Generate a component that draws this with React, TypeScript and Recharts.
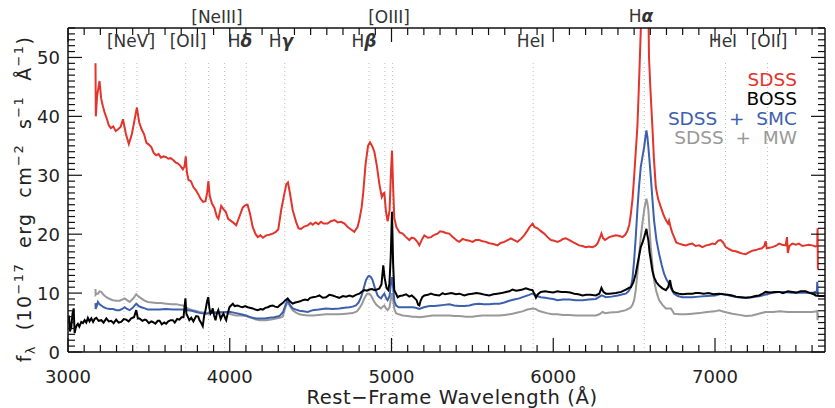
import { LineChart, Line, XAxis, YAxis, ReferenceLine } from 'recharts';

// rest-frame spectra: [wavelength (Å), flux (1e-17 erg/cm2/s/Å)]
const SDSS: [number, number][] = [
  [3170, 49.0], [3172, 40.0], [3180, 43.5], [3195, 46.0], [3205, 43.0], [3215, 41.8], [3228, 40.5],
  [3240, 39.6], [3252, 38.5], [3265, 38.0], [3280, 38.3], [3295, 37.5], [3310, 37.8], [3325, 38.2],
  [3340, 39.5], [3358, 37.0], [3376, 35.3], [3395, 37.0], [3412, 39.5], [3426, 41.5], [3440, 39.0],
  [3455, 37.8], [3470, 37.0], [3485, 35.5], [3500, 35.2], [3515, 34.8], [3530, 33.8], [3545, 33.4],
  [3560, 33.6], [3575, 33.0], [3590, 33.2], [3605, 33.1], [3620, 32.8], [3635, 32.9], [3650, 32.6],
  [3665, 32.2], [3680, 32.0], [3695, 31.6], [3710, 31.0], [3720, 31.5], [3728, 33.2], [3735, 30.5],
  [3745, 29.2], [3760, 29.0], [3775, 28.0], [3790, 27.5], [3805, 26.8], [3820, 26.0], [3835, 25.5],
  [3850, 25.6], [3860, 27.0], [3868, 29.0], [3876, 26.5], [3890, 25.2], [3905, 24.5], [3920, 23.0],
  [3930, 22.6], [3947, 24.8], [3960, 24.3], [3975, 23.8], [3990, 22.6], [4005, 22.3], [4020, 22.0],
  [4040, 21.5], [4060, 23.0], [4080, 24.5], [4095, 24.9], [4110, 25.0], [4125, 23.5], [4142, 21.2],
  [4160, 20.0], [4173, 19.5], [4190, 19.8], [4205, 19.4], [4225, 19.8], [4245, 19.9], [4266, 20.1],
  [4285, 20.4], [4300, 20.8], [4318, 24.1], [4335, 26.5], [4350, 28.5], [4360, 28.8], [4372, 27.0],
  [4389, 24.1], [4410, 22.1], [4425, 21.0], [4441, 20.9], [4460, 21.3], [4482, 21.5], [4500, 21.9],
  [4513, 21.6], [4530, 22.0], [4548, 21.7], [4564, 22.1], [4580, 21.8], [4605, 21.8], [4625, 22.2],
  [4647, 22.4], [4668, 22.0], [4688, 22.1], [4710, 21.8], [4729, 21.2], [4750, 20.8], [4770, 20.4],
  [4790, 21.2], [4801, 22.4], [4815, 24.5], [4825, 27.0], [4840, 32.0], [4855, 35.0], [4867, 35.6],
  [4880, 35.0], [4894, 34.0], [4910, 31.5], [4925, 28.5], [4940, 26.3], [4950, 26.9], [4956, 27.0],
  [4965, 24.0], [4976, 22.2], [4988, 24.0], [4996, 30.0], [5003, 34.2], [5010, 28.0], [5017, 22.8],
  [5030, 21.2], [5050, 20.3], [5069, 20.1], [5090, 19.5], [5110, 19.0], [5125, 19.4], [5141, 19.3],
  [5160, 18.7], [5172, 18.1], [5190, 19.2], [5203, 19.8], [5225, 19.4], [5244, 19.5], [5265, 19.9],
  [5285, 20.1], [5300, 20.5], [5316, 20.4], [5337, 20.2], [5357, 20.1], [5375, 19.6], [5388, 19.3],
  [5405, 18.9], [5419, 18.7], [5440, 19.2], [5460, 19.0], [5480, 18.9], [5501, 18.7], [5520, 19.0],
  [5542, 19.0], [5563, 18.8], [5584, 18.7], [5600, 18.5], [5615, 18.4], [5635, 18.3], [5655, 18.1],
  [5675, 18.5], [5697, 18.7], [5718, 19.0], [5738, 19.3], [5758, 19.0], [5779, 18.7], [5800, 19.2],
  [5820, 19.8], [5840, 20.6], [5856, 21.3], [5872, 21.8], [5885, 21.2], [5903, 21.0], [5920, 20.6],
  [5944, 20.1], [5965, 19.5], [5985, 19.0], [6006, 18.9], [6026, 18.7], [6045, 18.9], [6060, 19.2],
  [6078, 19.3], [6100, 19.0], [6119, 18.7], [6140, 18.4], [6160, 18.1], [6180, 18.0], [6201, 17.8],
  [6220, 17.9], [6242, 17.8], [6260, 18.0], [6273, 18.4], [6290, 19.5], [6298, 20.1], [6308, 19.3],
  [6320, 19.0], [6346, 19.5], [6370, 19.7], [6387, 19.8], [6410, 19.7], [6428, 19.5], [6445, 19.9],
  [6459, 20.6], [6470, 21.6], [6480, 23.5], [6490, 26.0], [6500, 29.7], [6510, 34.0], [6520, 38.2],
  [6528, 44.0], [6535, 49.5], [6545, 58.0], [6560, 66.0], [6575, 66.0], [6588, 58.0], [6592, 50.0],
  [6600, 45.0], [6613, 38.2], [6622, 33.0], [6634, 28.0], [6648, 26.0], [6665, 24.6], [6680, 23.4],
  [6696, 22.4], [6710, 21.8], [6716, 22.3], [6725, 21.2], [6735, 20.3], [6747, 19.5], [6760, 18.6],
  [6778, 18.4], [6800, 18.2], [6820, 18.1], [6840, 18.3], [6860, 18.4], [6880, 18.0], [6902, 18.1],
  [6922, 17.8], [6945, 18.1], [6965, 18.2], [6984, 18.4], [7000, 18.3], [7020, 18.9], [7035, 19.0],
  [7050, 18.6], [7066, 17.8], [7085, 17.5], [7107, 17.2], [7128, 17.1], [7149, 16.9], [7170, 16.7],
  [7190, 16.6], [7210, 16.9], [7231, 17.2], [7252, 17.3], [7272, 17.5], [7290, 17.6], [7305, 18.0],
  [7313, 18.8], [7320, 17.6], [7335, 17.7], [7354, 17.8], [7375, 18.0], [7396, 18.4], [7415, 18.2],
  [7437, 18.1], [7445, 19.5], [7450, 16.8], [7460, 18.0], [7478, 18.4], [7500, 18.2], [7519, 18.4],
  [7540, 18.0], [7560, 18.1], [7580, 18.2], [7601, 18.1], [7620, 17.9], [7632, 18.0], [7634, 21.0],
  [7636, 14.0],
];

const BOSS: [number, number][] = [
  [3006, 6.2], [3012, 3.5], [3020, 4.2], [3028, 6.5], [3035, 7.4], [3041, 3.2], [3047, 4.0],
  [3055, 4.6], [3061, 4.8], [3070, 4.3], [3082, 5.1], [3092, 4.9], [3103, 5.4], [3113, 5.0],
  [3123, 5.8], [3133, 5.2], [3144, 5.7], [3155, 5.1], [3165, 5.6], [3175, 5.8], [3190, 5.3],
  [3206, 5.4], [3220, 5.0], [3237, 5.7], [3252, 5.2], [3267, 5.3], [3282, 4.9], [3298, 5.5],
  [3313, 5.0], [3329, 5.1], [3345, 5.6], [3360, 5.5], [3375, 5.2], [3391, 5.7], [3408, 5.9],
  [3422, 7.1], [3432, 5.7], [3442, 5.7], [3460, 5.3], [3475, 5.5], [3484, 5.4], [3500, 4.9],
  [3515, 5.2], [3524, 5.1], [3540, 4.8], [3555, 5.3], [3566, 5.3], [3580, 4.7], [3595, 5.0],
  [3607, 4.8], [3620, 5.2], [3635, 5.4], [3648, 5.4], [3660, 5.0], [3675, 5.6], [3689, 5.5],
  [3702, 5.9], [3714, 5.9], [3720, 7.5], [3726, 9.1], [3732, 6.5], [3739, 6.1], [3750, 5.4],
  [3762, 5.8], [3775, 5.2], [3792, 6.1], [3805, 6.0], [3813, 5.4], [3822, 5.0], [3833, 4.4],
  [3842, 6.2], [3850, 7.1], [3860, 8.6], [3867, 9.3], [3874, 7.5], [3881, 6.5], [3888, 6.8],
  [3895, 7.4], [3903, 6.2], [3912, 5.4], [3920, 6.5], [3929, 7.1], [3936, 6.4], [3944, 5.6],
  [3952, 6.1], [3961, 6.5], [3970, 5.9], [3978, 5.4], [3988, 6.6], [3998, 7.6], [4008, 7.9],
  [4019, 8.2], [4030, 7.8], [4049, 7.9], [4065, 7.7], [4080, 7.6], [4095, 7.8], [4111, 7.6],
  [4125, 7.5], [4142, 7.4], [4158, 7.2], [4173, 7.1], [4190, 7.3], [4204, 7.2], [4220, 7.5],
  [4235, 7.6], [4250, 7.8], [4266, 7.9], [4280, 7.7], [4297, 7.6], [4312, 8.0], [4327, 8.3],
  [4345, 8.8], [4358, 9.1], [4372, 8.6], [4389, 8.2], [4405, 8.4], [4420, 8.5], [4435, 8.6],
  [4451, 8.8], [4466, 8.9], [4482, 8.8], [4497, 9.2], [4513, 9.3], [4535, 9.4], [4554, 9.6],
  [4575, 9.2], [4595, 9.3], [4615, 9.7], [4636, 9.6], [4655, 9.4], [4677, 9.2], [4700, 9.5],
  [4719, 9.4], [4740, 9.6], [4760, 9.4], [4780, 9.7], [4801, 9.9], [4815, 10.2], [4832, 10.5],
  [4848, 10.4], [4863, 10.6], [4880, 10.7], [4894, 10.5], [4910, 10.6], [4925, 10.8], [4938, 11.5],
  [4949, 14.7], [4958, 12.5], [4970, 10.8], [4980, 10.5], [4987, 11.6], [4995, 16.0], [5003, 23.8],
  [5010, 15.0], [5017, 10.5], [5028, 9.9], [5038, 9.3], [5050, 9.5], [5069, 9.6], [5090, 9.8],
  [5110, 9.4], [5125, 9.6], [5141, 9.2], [5155, 8.8], [5165, 8.0], [5172, 7.9], [5180, 8.7],
  [5190, 9.3], [5203, 9.6], [5225, 9.7], [5244, 9.9], [5265, 9.7], [5295, 9.6], [5316, 10.0],
  [5330, 9.8], [5347, 9.9], [5370, 10.0], [5398, 9.8], [5420, 9.9], [5450, 9.6], [5475, 9.8],
  [5501, 9.9], [5525, 10.0], [5553, 9.9], [5580, 9.7], [5604, 9.6], [5630, 9.8], [5655, 9.9],
  [5680, 10.0], [5707, 10.2], [5728, 10.3], [5748, 10.6], [5770, 10.4], [5789, 10.5], [5810, 10.6],
  [5831, 10.8], [5852, 10.6], [5872, 10.5], [5882, 9.9], [5893, 9.2], [5905, 9.8], [5923, 10.2],
  [5950, 10.3], [5975, 10.2], [6000, 10.1], [6026, 10.3], [6050, 10.2], [6078, 10.2], [6105, 10.1],
  [6130, 9.9], [6155, 9.8], [6181, 9.6], [6205, 9.7], [6230, 9.7], [6263, 9.6], [6285, 9.9],
  [6298, 10.9], [6310, 10.2], [6325, 9.9], [6350, 9.9], [6387, 10.0], [6420, 10.2], [6449, 10.6],
  [6470, 10.9], [6480, 11.0], [6495, 11.8], [6510, 13.3], [6525, 15.5], [6541, 17.8], [6552, 18.6],
  [6562, 19.5], [6570, 20.3], [6576, 20.9], [6582, 19.8], [6588, 19.0], [6595, 17.0], [6603, 15.6],
  [6613, 13.8], [6623, 12.7], [6638, 11.8], [6654, 11.3], [6675, 10.8], [6696, 10.5], [6710, 11.0],
  [6722, 12.2], [6730, 11.0], [6740, 10.3], [6760, 10.0], [6778, 9.9], [6800, 9.8], [6830, 9.9],
  [6860, 9.9], [6880, 10.0], [6902, 10.0], [6930, 9.9], [6960, 10.0], [6990, 9.8], [7025, 9.9],
  [7050, 9.8], [7080, 9.7], [7107, 9.6], [7130, 9.4], [7160, 9.3], [7190, 9.2], [7220, 9.3],
  [7250, 9.5], [7272, 9.6], [7295, 9.9], [7313, 10.2], [7340, 10.1], [7370, 10.2], [7396, 10.2],
  [7420, 10.0], [7450, 10.3], [7478, 10.2], [7505, 10.1], [7530, 10.3], [7560, 10.3], [7590, 10.0],
  [7610, 9.8], [7622, 9.6], [7645, 9.5], [7680, 9.5],
];

const SDSS_SMC: [number, number][] = [
  [3170, 8.3], [3171, 7.3], [3178, 7.8], [3185, 8.5], [3195, 8.1], [3206, 7.9], [3220, 7.6],
  [3237, 7.4], [3258, 7.3], [3278, 7.3], [3300, 7.1], [3319, 7.1], [3335, 7.3], [3350, 7.6],
  [3365, 7.3], [3381, 7.1], [3400, 7.5], [3422, 8.2], [3437, 7.8], [3453, 7.6], [3475, 7.4],
  [3494, 7.2], [3530, 7.2], [3566, 7.2], [3605, 7.3], [3648, 7.2], [3680, 7.2], [3710, 7.2],
  [3741, 7.1], [3765, 7.0], [3792, 6.8], [3820, 6.6], [3854, 6.5], [3885, 6.6], [3916, 6.6],
  [3945, 6.7], [3978, 6.8], [4005, 6.8], [4039, 6.6], [4070, 6.4], [4101, 6.2], [4120, 6.0],
  [4142, 5.8], [4163, 5.7], [4183, 5.7], [4215, 5.7], [4245, 5.8], [4275, 5.9], [4307, 6.1],
  [4330, 6.8], [4345, 8.0], [4358, 8.8], [4372, 8.0], [4389, 7.4], [4410, 7.2], [4431, 7.0],
  [4455, 6.9], [4482, 6.8], [4513, 7.1], [4550, 7.2], [4595, 7.4], [4635, 7.3], [4677, 7.4],
  [4710, 7.5], [4739, 7.6], [4760, 7.7], [4780, 7.9], [4797, 8.4], [4812, 9.3], [4828, 10.8],
  [4842, 12.2], [4855, 12.8], [4863, 12.9], [4873, 12.7], [4883, 12.2], [4898, 10.8], [4914, 9.6],
  [4925, 9.3], [4935, 9.1], [4947, 9.6], [4956, 9.9], [4966, 9.2], [4976, 8.8], [4988, 9.5],
  [4996, 11.5], [5003, 12.7], [5010, 11.0], [5018, 8.6], [5028, 7.9], [5045, 7.6], [5069, 7.6],
  [5100, 7.6], [5131, 7.6], [5150, 7.5], [5172, 7.3], [5200, 7.6], [5234, 7.8], [5265, 7.8],
  [5295, 7.9], [5326, 8.0], [5357, 8.1], [5388, 7.9], [5419, 7.8], [5450, 7.8], [5481, 7.9],
  [5510, 8.1], [5542, 8.2], [5570, 8.1], [5604, 8.1], [5635, 8.2], [5666, 8.2], [5697, 8.4],
  [5728, 8.7], [5758, 8.9], [5789, 9.1], [5820, 9.4], [5851, 9.7], [5870, 9.9], [5882, 9.9],
  [5900, 9.5], [5923, 9.3], [5950, 9.2], [5975, 9.1], [6000, 9.0], [6026, 8.8], [6060, 8.9],
  [6100, 8.9], [6140, 8.8], [6181, 8.8], [6220, 8.9], [6263, 9.0], [6300, 9.6], [6325, 9.3],
  [6360, 9.4], [6400, 9.6], [6430, 9.8], [6449, 9.9], [6465, 10.3], [6480, 11.0], [6490, 12.5],
  [6500, 15.6], [6510, 19.5], [6520, 24.1], [6530, 28.0], [6541, 31.4], [6552, 33.2], [6562, 34.8],
  [6570, 36.5], [6576, 37.6], [6582, 36.5], [6588, 34.8], [6595, 32.5], [6603, 29.7], [6613, 26.0],
  [6623, 22.4], [6638, 19.0], [6654, 16.7], [6670, 14.8], [6685, 13.3], [6700, 12.3], [6716, 11.6],
  [6730, 10.7], [6747, 9.9], [6770, 9.5], [6798, 9.3], [6830, 9.3], [6860, 9.3], [6900, 9.4],
  [6950, 9.5], [7000, 9.6], [7040, 9.9], [7070, 9.7], [7100, 9.5], [7140, 9.3], [7190, 9.2],
  [7230, 9.3], [7280, 9.5], [7320, 9.8], [7350, 10.0], [7390, 10.2], [7420, 10.2], [7460, 10.1],
  [7500, 10.0], [7540, 10.1], [7580, 10.0], [7610, 10.1], [7630, 10.3], [7632, 11.9], [7636, 9.6],
];

const SDSS_MW: [number, number][] = [
  [3170, 10.7], [3171, 9.7], [3178, 9.9], [3185, 9.9], [3195, 10.3], [3206, 10.2], [3220, 9.7],
  [3237, 9.3], [3258, 9.0], [3278, 8.8], [3300, 8.7], [3319, 8.7], [3335, 8.9], [3350, 9.1],
  [3365, 8.8], [3381, 8.5], [3400, 9.0], [3422, 9.8], [3437, 9.4], [3453, 9.1], [3475, 8.7],
  [3494, 8.5], [3520, 8.4], [3545, 8.3], [3575, 8.3], [3607, 8.2], [3640, 8.1], [3669, 8.1],
  [3690, 8.0], [3710, 7.9], [3725, 7.7], [3741, 7.4], [3756, 7.2], [3772, 7.1], [3790, 7.0],
  [3813, 6.8], [3835, 6.7], [3854, 6.6], [3875, 6.7], [3895, 6.8], [3925, 6.8], [3957, 6.8],
  [3978, 6.7], [3998, 6.5], [4020, 6.3], [4039, 6.2], [4070, 6.2], [4101, 6.1], [4120, 5.9],
  [4142, 5.7], [4163, 5.5], [4183, 5.4], [4205, 5.4], [4225, 5.4], [4255, 5.5], [4287, 5.7],
  [4310, 5.8], [4327, 6.0], [4342, 7.4], [4358, 8.5], [4372, 7.8], [4389, 7.1], [4410, 6.7],
  [4431, 6.4], [4455, 6.3], [4482, 6.2], [4513, 6.2], [4550, 6.3], [4595, 6.4], [4635, 6.4],
  [4677, 6.4], [4720, 6.5], [4760, 6.6], [4785, 6.9], [4801, 7.4], [4818, 8.2], [4832, 9.1],
  [4845, 9.7], [4852, 9.9], [4863, 9.9], [4873, 9.6], [4888, 8.8], [4904, 8.1], [4920, 7.7],
  [4935, 7.4], [4946, 7.7], [4956, 7.9], [4966, 7.4], [4976, 7.1], [4988, 7.6], [4996, 9.0],
  [5003, 10.0], [5010, 8.8], [5018, 7.2], [5028, 6.6], [5045, 6.4], [5069, 6.2], [5100, 6.1],
  [5130, 6.0], [5150, 6.0], [5172, 5.9], [5200, 6.0], [5230, 6.1], [5254, 6.2], [5290, 6.2],
  [5320, 6.2], [5357, 6.2], [5390, 6.1], [5420, 6.1], [5460, 6.0], [5500, 6.0], [5530, 6.1],
  [5563, 6.2], [5600, 6.2], [5630, 6.2], [5666, 6.2], [5700, 6.3], [5730, 6.4], [5748, 6.5],
  [5780, 6.7], [5810, 6.9], [5840, 7.2], [5872, 7.4], [5890, 7.3], [5910, 7.0], [5934, 6.8],
  [5960, 6.6], [5995, 6.4], [6026, 6.4], [6060, 6.3], [6100, 6.3], [6140, 6.2], [6180, 6.2],
  [6220, 6.2], [6263, 6.2], [6285, 6.4], [6305, 6.8], [6320, 6.6], [6350, 6.7], [6400, 6.8],
  [6449, 7.1], [6470, 7.4], [6480, 7.6], [6490, 8.0], [6500, 8.8], [6510, 10.5], [6520, 13.3],
  [6530, 16.2], [6541, 19.5], [6552, 22.0], [6562, 24.1], [6570, 25.3], [6576, 26.0], [6582, 25.3],
  [6588, 24.1], [6595, 21.0], [6603, 17.8], [6613, 14.8], [6623, 12.2], [6638, 10.2], [6654, 8.8],
  [6675, 8.0], [6696, 7.4], [6712, 7.4], [6727, 7.4], [6737, 7.0], [6747, 6.5], [6780, 6.4],
  [6819, 6.4], [6860, 6.5], [6902, 6.6], [6950, 6.8], [7000, 6.9], [7025, 7.1], [7060, 6.8],
  [7107, 6.5], [7150, 6.3], [7190, 6.1], [7230, 6.2], [7270, 6.5], [7313, 6.8], [7360, 6.8],
  [7400, 6.9], [7450, 6.8], [7500, 6.8], [7550, 6.8], [7600, 6.8], [7630, 6.9], [7632, 7.1],
  [7634, 5.4], [7636, 6.6],
];

// emission lines marked by dotted verticals
const LINE_WAVES = [3346, 3426, 3727, 3869, 3968, 4102, 4340, 4861, 4959, 5007, 5876, 6563, 7065, 7325];

// labels: [text, x px, baseline px]
const LINE_LABELS: [string, number, number][] = [
  ['[NeV]', 131, 47], ['[OII]', 188, 47], ['[NeIII]', 217, 23], ['Hδ', 240, 47], ['Hγ', 281, 47],
  ['Hβ', 364, 47], ['[OIII]', 389, 23], ['HeI', 531, 47], ['Hα', 641, 22], ['HeI', 723, 47],
  ['[OII]', 769, 47],
];

const X_MAJOR = [3000, 4000, 5000, 6000, 7000];
const Y_MAJOR = [0, 10, 20, 30, 40, 50];
const X_TICKS = Array.from({ length: 47 }, (_, i) => 3000 + i * 100);
const Y_TICKS = Array.from({ length: 56 }, (_, i) => i);

const LEGEND: [string, string][] = [
  ['SDSS', '#e3342c'],
  ['BOSS', '#000000'],
  ['SDSS  +  SMC', '#3d60ae'],
  ['SDSS  +  MW', '#999999'],
];

const FONT = '"DejaVu Sans", sans-serif';
const INK = '#222';

const toPoints = (arr: [number, number][]) => arr.map(([w, f]) => ({ w, f }));

const BottomTick = (props: any) => {
  const { x, y, payload } = props;
  const major = X_MAJOR.includes(payload.value);
  return (
    <g>
      <line x1={x} y1={y} x2={x} y2={y - (major ? 14 : 7)} stroke="#111" strokeWidth={1.2} />
      {major && (
        <text x={x} y={y + 31} textAnchor="middle" fontSize={18} fontFamily={FONT} fill={INK}>
          {payload.value}
        </text>
      )}
    </g>
  );
};

const TopTick = (props: any) => {
  const { x, y, payload } = props;
  const major = X_MAJOR.includes(payload.value);
  return <line x1={x} y1={y} x2={x} y2={y + (major ? 14 : 7)} stroke="#111" strokeWidth={1.2} />;
};

const LeftTick = (props: any) => {
  const { x, y, payload } = props;
  const major = Y_MAJOR.includes(payload.value);
  return (
    <g>
      <line x1={x} y1={y} x2={x + (major ? 14 : 7)} y2={y} stroke="#111" strokeWidth={1.2} />
      {major && (
        <text x={x - 8} y={y + 6.5} textAnchor="end" fontSize={18} fontFamily={FONT} fill={INK}>
          {payload.value}
        </text>
      )}
    </g>
  );
};

const RightTick = (props: any) => {
  const { x, y, payload } = props;
  const major = Y_MAJOR.includes(payload.value);
  return <line x1={x} y1={y} x2={x - (major ? 14 : 7)} y2={y} stroke="#111" strokeWidth={1.2} />;
};

const renderLabel = (txt: string) => {
  const greek = txt.match(/^H([αβγδ])$/);
  if (greek) {
    return (
      <>
        H<tspan fontWeight="bold" fontStyle="italic">{greek[1]}</tspan>
      </>
    );
  }
  return txt;
};

const App = () => {
  const axisLine = { stroke: '#111', strokeWidth: 1.5 };
  return (
    <div style={{ position: 'absolute', left: 0, top: 0, width: 835, height: 408, background: '#fff' }}>
      <LineChart width={835} height={408} margin={{ top: 20, right: 2, bottom: 16, left: 18 }}>
        <XAxis
          xAxisId={0}
          dataKey="w"
          type="number"
          domain={[3000, 7680]}
          allowDataOverflow
          ticks={X_TICKS}
          interval={0}
          tickSize={0}
          tickMargin={0}
          tickLine={false}
          tick={<BottomTick />}
          axisLine={axisLine}
          height={40}
        />
        <XAxis
          xAxisId="top"
          orientation="top"
          dataKey="w"
          type="number"
          domain={[3000, 7680]}
          allowDataOverflow
          ticks={X_TICKS}
          interval={0}
          tickSize={0}
          tickMargin={0}
          tickLine={false}
          tick={<TopTick />}
          axisLine={axisLine}
          height={8}
        />
        <YAxis
          yAxisId={0}
          type="number"
          domain={[0, 55]}
          allowDataOverflow
          ticks={Y_TICKS}
          interval={0}
          tickSize={0}
          tickMargin={0}
          tickLine={false}
          tick={<LeftTick />}
          axisLine={axisLine}
          width={50}
        />
        <YAxis
          yAxisId="right"
          orientation="right"
          type="number"
          domain={[0, 55]}
          allowDataOverflow
          ticks={Y_TICKS}
          interval={0}
          tickSize={0}
          tickMargin={0}
          tickLine={false}
          tick={<RightTick />}
          axisLine={axisLine}
          width={8}
        />
        {LINE_WAVES.map((w) => (
          <ReferenceLine
            key={w}
            segment={[{ x: w, y: 0 }, { x: w, y: 49.3 }]}
            stroke="#bdbdbd"
            strokeDasharray="1 3"
            strokeWidth={1}
          />
        ))}
        <Line data={toPoints(SDSS_MW)} dataKey="f" stroke="#999999" strokeWidth={2} dot={false} isAnimationActive={false} type="linear" />
        <Line data={toPoints(SDSS_SMC)} dataKey="f" stroke="#3d60ae" strokeWidth={2} dot={false} isAnimationActive={false} type="linear" />
        <Line data={toPoints(SDSS)} dataKey="f" stroke="#e3342c" strokeWidth={2} dot={false} isAnimationActive={false} type="linear" />
        <Line data={toPoints(BOSS)} dataKey="f" stroke="#000000" strokeWidth={2} dot={false} isAnimationActive={false} type="linear" />
      </LineChart>
      <svg
        width={835}
        height={408}
        style={{ position: 'absolute', left: 0, top: 0, pointerEvents: 'none' }}
        fontFamily={FONT}
      >
        {LINE_LABELS.map(([t, x, y], i) => (
          <text key={i} x={x} y={y} textAnchor="middle" fontSize={17} fill="#333">
            {renderLabel(t)}
          </text>
        ))}
        {LEGEND.map(([t, c], i) => (
          <text key={t} x={797} y={86 + i * 19.4} textAnchor="end" fontSize={18.5} fill={c} style={{ whiteSpace: 'pre' }}>
            {t}
          </text>
        ))}
        <text x={452} y={404} textAnchor="middle" fontSize={19.5} letterSpacing={0.6} fill={INK} style={{ whiteSpace: 'pre' }}>
          Rest−Frame Wavelength (Å)
        </text>
        <text transform="translate(31,199) rotate(-90)" textAnchor="middle" fontSize={19} letterSpacing={1.4} fill={INK} style={{ whiteSpace: 'pre' }}>
          f<tspan dy={4} fontSize={13}>λ</tspan>
          <tspan dy={-4}>  (10</tspan>
          <tspan dy={-8} fontSize={13}>−17</tspan>
          <tspan dy={8}>  erg  cm</tspan>
          <tspan dy={-8} fontSize={13}>−2</tspan>
          <tspan dy={8}>  s</tspan>
          <tspan dy={-8} fontSize={13}>−1</tspan>
          <tspan dy={8}>  Å</tspan>
          <tspan dy={-8} fontSize={13}>−1</tspan>
          <tspan dy={8}>)</tspan>
        </text>
      </svg>
    </div>
  );
};

export default App;
